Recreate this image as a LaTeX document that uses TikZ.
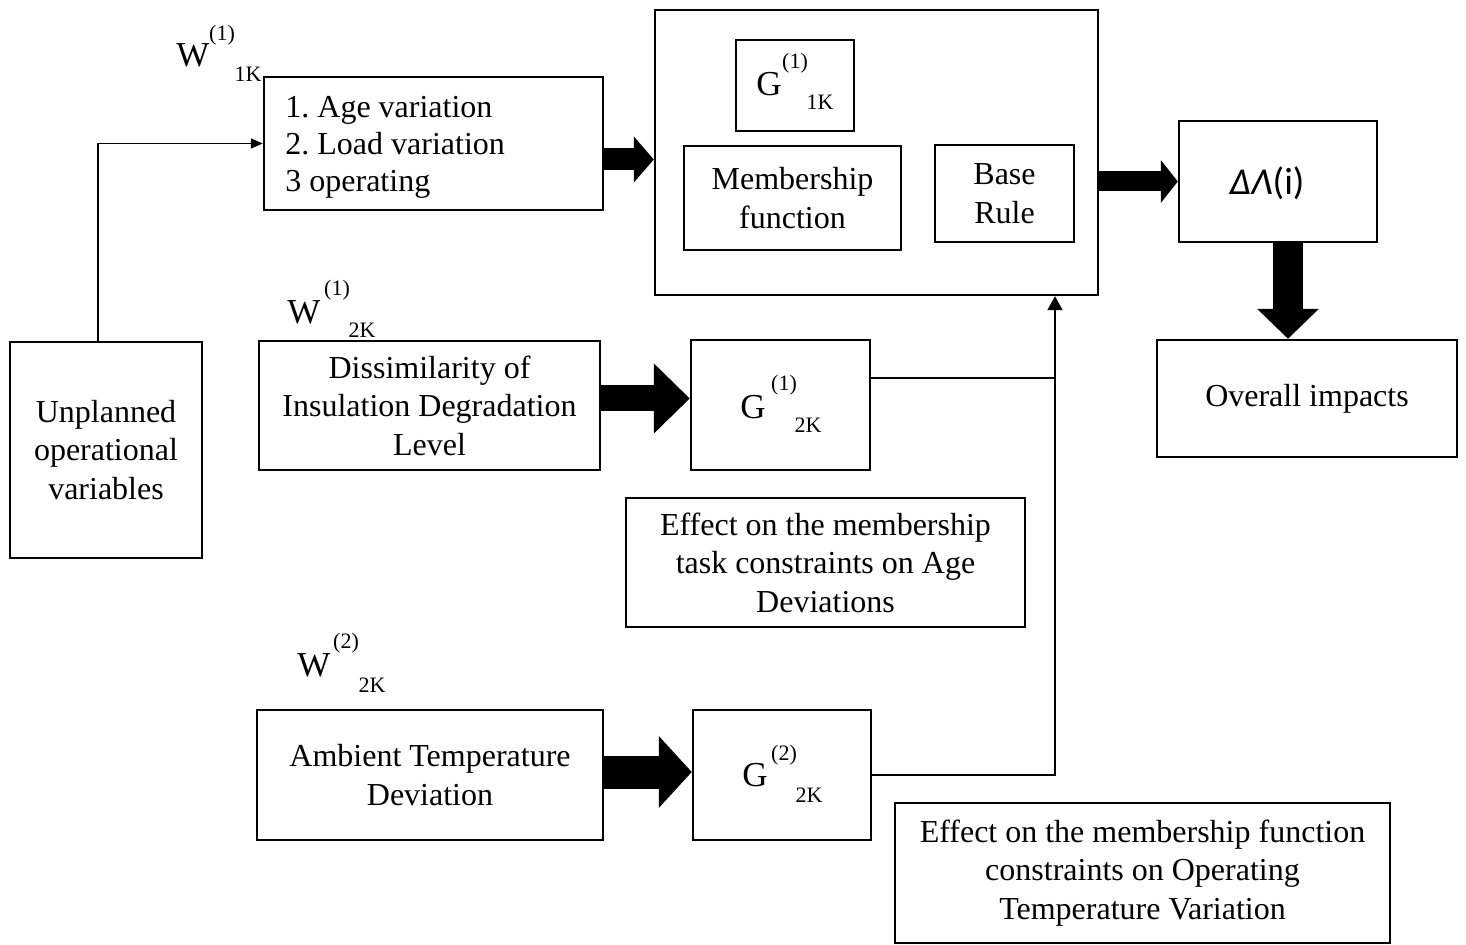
\documentclass[tikz,border=0pt]{standalone}
\usepackage{fontspec}
\setmainfont{Liberation Serif}
\newfontfamily\calib{Carlito}
\usetikzlibrary{arrows.meta,calc}
\frenchspacing
\begin{document}
\begin{tikzpicture}[x=0.5pt,y=-0.5pt,
  box/.style={draw,line width=1.2pt,inner sep=0pt,align=center,font=\fontsize{16}{19.3}\selectfont},
  txt/.style={inner sep=0pt,font=\fontsize{16}{18.5}\selectfont},
  lbl/.style={inner sep=0pt,font=\fontsize{17.5}{20}\selectfont},
  idx/.style={inner sep=0pt,font=\fontsize{11}{13}\selectfont},
  thin/.style={line width=0.75pt},
  fat/.style={line width=#1},
]
\useasboundingbox (0,0) rectangle (1466,945);

% main blocks
\node[box,minimum width=96pt,minimum height=108pt] (unp) at (106,450) {Unplanned\\operational\\variables};
\node[box,minimum width=169.5pt,minimum height=66.5pt] (age) at (433.5,143.5) {};
\node[txt,anchor=west,align=left] (aget) at (285,147) {1. Age variation\\2. Load variation\\3 operating};
\node[box,minimum width=221.5pt,minimum height=142.5pt] (big) at (876.5,152.5) {};
\node[box,minimum width=59pt,minimum height=45.5pt] (g11) at (795,85.5) {};
\node[box,minimum width=108.5pt,minimum height=52pt] (mf) at (792.5,198) {Membership\\function};
\node[box,minimum width=69.5pt,minimum height=48.5pt] (br) at (1004.5,193.5) {Base\\Rule};
\node[box,minimum width=99pt,minimum height=60.5pt] (dl) at (1278,181.5) {};
\node[inner sep=0pt,font=\fontsize{19}{22}\calib] (dlt) at (1267,183) {\textit{ΔΛ}(i)};
\node[box,minimum width=150pt,minimum height=58.5pt] (ov) at (1307,398.5) {Overall impacts};
\node[box,minimum width=170.5pt,minimum height=64.5pt] (diss) at (429.5,405.5) {Dissimilarity of\\Insulation Degradation\\Level};
\node[box,minimum width=89.5pt,minimum height=65pt] (g21) at (780.5,405) {};
\node[box,minimum width=199.5pt,minimum height=64.5pt] (ea) at (825.5,562.5) {Effect on the membership\\task constraints on Age\\Deviations};
\node[box,minimum width=173pt,minimum height=65pt] (amb) at (430,775) {Ambient Temperature\\Deviation};
\node[box,minimum width=89pt,minimum height=65pt] (g22) at (782,775) {};
\node[box,minimum width=247.5pt,minimum height=70pt] (eo) at (1142.5,873) {Effect on the membership function\\constraints on Operating\\Temperature Variation};

% weight and gain labels
\node[lbl] (w1) at (193,55) {W};
\node[idx] (w1s) at (222,35) {(1)};
\node[idx] (w1b) at (248,74) {1K};
\node[lbl] (w2) at (304,312) {W};
\node[idx] (w2s) at (337,290) {(1)};
\node[idx] (w2b) at (362,330) {2K};
\node[lbl] (w3) at (314,665) {W};
\node[idx] (w3s) at (346,643) {(2)};
\node[idx] (w3b) at (372,685) {2K};
\node[lbl] (g1l) at (769,84) {G};
\node[idx] (g1s) at (795,63) {(1)};
\node[idx] (g1b) at (820,102) {1K};
\node[lbl] (g2l) at (753,407) {G};
\node[idx] (g2s) at (784,385) {(1)};
\node[idx] (g2b) at (808,425) {2K};
\node[lbl] (g3l) at (755,775) {G};
\node[idx] (g3s) at (784,755) {(2)};
\node[idx] (g3b) at (809,795) {2K};

% thin connectors
\draw[thin,-{Triangle[length=6pt,width=5pt]}] ($(unp.north)+(-8,0)$) |- (age.west);
\coordinate (jb) at (1055,773);
\coordinate (g21o) at ($(g21.east)+(0,-27)$);
\draw[thin] (g21o) -- (g21o -| jb);
\draw[thin,-{Triangle[length=7pt,width=7.5pt]}] (g22.east) -- (g22.east -| jb) -- (jb |- big.south);

% block arrows
\coordinate (a1) at ($(age.east)+(0,16)$);
\draw[fat=11pt,-{Triangle[length=10pt,width=22.5pt]}] (a1) -- (a1 -| big.west);
\draw[fat=10pt,-{Triangle[length=8.5pt,width=21pt]}] (big.east |- dl.west) -- (dl.west);
\coordinate (a3) at ($(dl.south)+(10,0)$);
\draw[fat=15pt,-{Triangle[length=15pt,width=30pt]}] (a3) -- (a3 |- ov.north);
\coordinate (a4) at ($(diss.east)+(0,-7)$);
\draw[fat=13pt,-{Triangle[length=18pt,width=34pt]}] (a4) -- (a4 -| g21.west);
\coordinate (a5) at ($(amb.east)+(0,-3)$);
\draw[fat=16.5pt,-{Triangle[length=16.5pt,width=35pt]}] (a5) -- (a5 -| g22.west);
\end{tikzpicture}
\end{document}
